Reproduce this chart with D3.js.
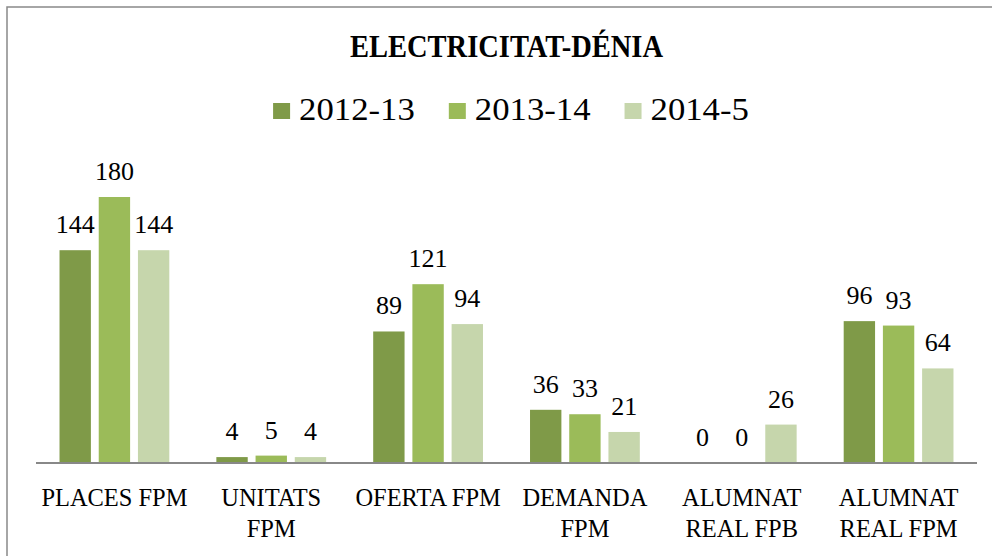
<!DOCTYPE html>
<html>
<head>
<meta charset="utf-8">
<script src="https://cdn.jsdelivr.net/npm/d3@7"></script>
<style>
  body { margin: 0; background: #fff; }
  svg { display: block; }
  text { font-family: "Liberation Serif", "DejaVu Serif", serif; fill: #000; }
</style>
</head>
<body>
<div id="chart"></div>
<script>
const categories = ['PLACES FPM', 'UNITATS\nFPM', 'OFERTA FPM', 'DEMANDA\nFPM', 'ALUMNAT\nREAL FPB', 'ALUMNAT\nREAL FPM'];
const series = ['2012-13', '2013-14', '2014-5'];
const values2012 = [144, 4, 89, 36, 0, 96];
const values2013 = [180, 5, 121, 33, 0, 93];
const values2014 = [144, 4, 94, 21, 26, 64];
const colors = ['#7F9A48', '#9BBB59', '#C6D6AC'];

const allValues = [values2012, values2013, values2014];
const W = 992, H = 556;

const svg = d3.select('#chart').append('svg')
	.attr('width', W)
	.attr('height', H);

svg.append('rect')
	.attr('x', 7).attr('y', 7)
	.attr('width', W + 20).attr('height', H + 20)
	.attr('fill', '#fff')
	.attr('stroke', '#898989')
	.attr('stroke-width', 1.5);

// scales
const x0 = d3.scaleBand().domain(d3.range(categories.length)).range([36, 977]);
const bw = x0.bandwidth();
const x1 = d3.scaleBand().domain(d3.range(series.length))
	.range([bw * 0.15, bw * 0.85])
	.paddingInner(0.2);
const y = d3.scaleLinear().domain([0, 200]).range([463, 463 - 200 * 266 / 180]);

// title
svg.append('text')
	.attr('x', 506.5).attr('y', 57)
	.attr('text-anchor', 'middle')
	.attr('font-size', 32)
	.attr('font-weight', 'bold')
	.attr('textLength', 313)
	.attr('lengthAdjust', 'spacingAndGlyphs')
	.text('ELECTRICITAT-DÉNIA');

// legend
const legend = svg.append('g');
let lx = 0;
series.forEach((s, i) => {
	const g = legend.append('g').attr('transform', `translate(${lx},0)`);
	g.append('rect')
		.attr('x', 0).attr('y', 103)
		.attr('width', 17).attr('height', 16)
		.attr('fill', colors[i]);
	const t = g.append('text')
		.attr('x', 26).attr('y', 120)
		.attr('font-size', 31)
		.text(s);
	const tl = t.node().getComputedTextLength() * 1.12;
	t.attr('textLength', tl).attr('lengthAdjust', 'spacingAndGlyphs');
	lx += 26 + tl + 34;
});
const lw = lx - 34;
legend.attr('transform', `translate(${511 - lw / 2},0)`);

// bars
const groups = svg.selectAll('.series')
	.data(allValues)
	.enter()
	.append('g')
	.attr('class', 'series')
	.attr('fill', (d, i) => colors[i]);

groups.each(function(vals, si) {
	const g = d3.select(this);
	g.selectAll('rect')
		.data(vals)
		.enter()
		.append('rect')
		.attr('x', (d, ci) => x0(ci) + x1(si))
		.attr('y', d => y(d))
		.attr('width', x1.bandwidth())
		.attr('height', d => y(0) - y(d));
	g.selectAll('text')
		.data(vals)
		.enter()
		.append('text')
		.attr('x', (d, ci) => x0(ci) + x1(si) + x1.bandwidth() / 2)
		.attr('y', d => y(d) - 17)
		.attr('text-anchor', 'middle')
		.attr('font-size', 26)
		.style('fill', '#000')
		.text(d => d);
});

// axis baseline
svg.append('line')
	.attr('x1', 36).attr('x2', 977)
	.attr('y1', y(0)).attr('y2', y(0))
	.attr('stroke', '#888')
	.attr('stroke-width', 2);

// category labels
svg.selectAll('.cat')
	.data(categories)
	.enter()
	.append('text')
	.attr('class', 'cat')
	.attr('text-anchor', 'middle')
	.attr('font-size', 26)
	.each(function(d, i) {
		const t = d3.select(this);
		d.split('\n').forEach((line, li) => {
			const ts = t.append('tspan')
				.attr('x', x0(i) + bw / 2)
				.attr('y', 506 + li * 31)
				.text(line);
			ts.attr('textLength', ts.node().getComputedTextLength() * 0.94)
				.attr('lengthAdjust', 'spacingAndGlyphs');
		});
	});
</script>
</body>
</html>
